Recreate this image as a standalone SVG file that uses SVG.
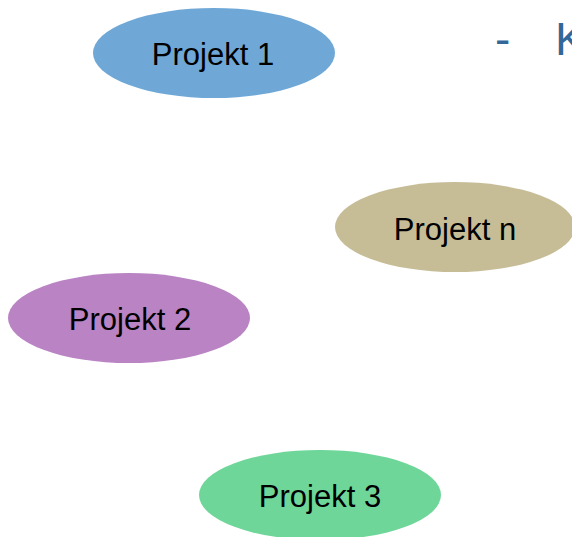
<svg xmlns="http://www.w3.org/2000/svg" width="572" height="537" viewBox="0 0 572 537">
<style>
.lbl{font-family:"Liberation Sans",Arial,sans-serif;font-size:31px;fill:#000;text-anchor:middle}
.head{font-family:"Liberation Sans",Arial,sans-serif;font-size:46px;fill:#33679a}
</style>
<rect width="572" height="537" fill="#fff"/>
<g id="heading">
<text class="head" x="495" y="55">-</text>
<text class="head" x="555" y="55">K</text>
</g>
<g id="connectors"></g>
<g id="projekt1">
<ellipse cx="214" cy="53" rx="121" ry="45" fill="#6fa8d6"/>
<text class="lbl" x="213" y="65">Projekt 1</text>
</g>
<g id="projektn">
<ellipse cx="455" cy="227" rx="120" ry="45" fill="#c6bd97"/>
<text class="lbl" x="455" y="240">Projekt n</text>
</g>
<g id="projekt2">
<ellipse cx="129" cy="318" rx="121" ry="45" fill="#b983c4"/>
<text class="lbl" x="130" y="330">Projekt 2</text>
</g>
<g id="projekt3">
<ellipse cx="320" cy="495" rx="121" ry="45" fill="#6ed698"/>
<text class="lbl" x="320" y="507">Projekt 3</text>
</g>
</svg>
